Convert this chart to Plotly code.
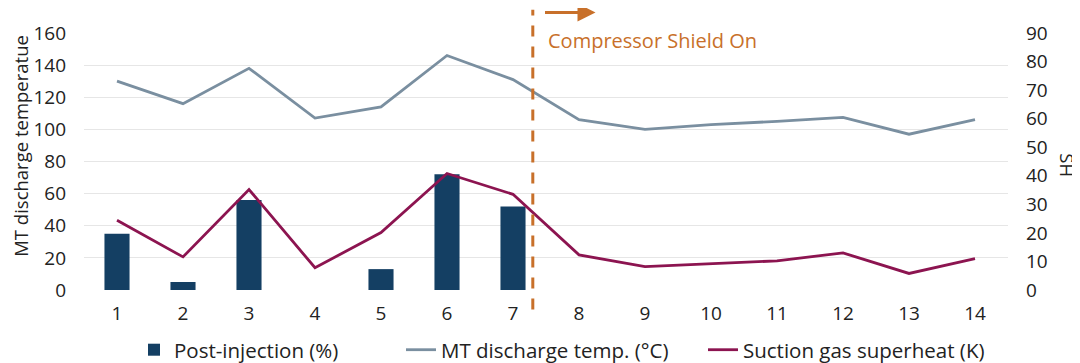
import plotly.graph_objects as go

# ---- data ----
periods = [1, 2, 3, 4, 5, 6, 7, 8, 9, 10, 11, 12, 13, 14]
post_injection = [35, 5, 56, 0, 13, 72, 52, 0, 0, 0, 0, 0, 0, 0]
mt_discharge = [130, 116, 138, 107, 114, 146, 131, 106, 100, 103, 105, 107.5, 97, 106]
suction_superheat = [24.4, 11.6, 35.2, 7.8, 20.1, 40.8, 33.5, 12.3, 8.2, 9.1, 10.2, 13.0, 5.8, 11.0]
left_ticks = [0, 20, 40, 60, 80, 100, 120, 140, 160]
right_ticks = [0, 10, 20, 30, 40, 50, 60, 70, 80, 90]
shield_on_position = 7.3

NAVY = "#143f63"
GREY = "#7a8fa0"
WINE = "#8c1450"
ORANGE = "#c8702a"
TEXT = "#222222"
FONT = "Open Sans"

fig = go.Figure()
fig.add_trace(go.Bar(
    x=periods, y=post_injection, name="Post-injection (%)",
    marker=dict(color=NAVY, line=dict(width=0)), width=0.38,
    legendwidth=222,
))
fig.add_trace(go.Scatter(
    x=periods, y=mt_discharge, name="MT discharge temp. (°C)", mode="lines",
    line=dict(color=GREY, width=2.8), legendwidth=257,
))
fig.add_trace(go.Scatter(
    x=periods, y=suction_superheat, name="Suction gas superheat (K)", mode="lines",
    line=dict(color=WINE, width=2.8), yaxis="y2",
))

fig.update_layout(
    width=1072, height=390,
    margin=dict(l=76, r=72, t=20, b=108),
    paper_bgcolor="white", plot_bgcolor="white",
    font=dict(family=FONT, size=19, color=TEXT),
    showlegend=True,
    legend=dict(orientation="h", x=0.0541, xanchor="left", y=-0.233, yanchor="middle",
                font=dict(size=20.5, color=TEXT), bgcolor="rgba(0,0,0,0)"),
    xaxis=dict(range=[0.5, 14.5], tickvals=periods, ticktext=[str(p) for p in periods],
               showgrid=False, zeroline=False, showline=False, ticks="",
               ticklabelstandoff=10, tickfont=dict(size=19, color=TEXT)),
    yaxis=dict(range=[0, 160], tickvals=left_ticks, showgrid=True, gridcolor="#e6e6e6",
               gridwidth=1, zeroline=False, showline=False, ticks="",
               ticklabelstandoff=17, tickfont=dict(size=19, color=TEXT)),
    yaxis2=dict(range=[0, 90], tickvals=right_ticks, overlaying="y", side="right",
                showgrid=False, zeroline=False, showline=False, ticks="",
                ticklabelstandoff=17, tickfont=dict(size=19, color=TEXT)),
)

# axis titles
fig.add_annotation(text="MT discharge temperatue", xref="paper", yref="paper",
                   x=-0.0682, y=0.561, xanchor="center", yanchor="middle",
                   textangle=-90, showarrow=False, font=dict(size=18.5, color=TEXT))
fig.add_annotation(text="SH", xref="paper", yref="paper",
                   x=1.065, y=0.485, xanchor="center", yanchor="middle",
                   textangle=90, showarrow=False, font=dict(size=18.5, color=TEXT))

# compressor shield marker
fig.add_shape(type="line", xref="x", yref="paper", x0=shield_on_position, x1=shield_on_position,
              y0=-0.076, y1=1.09, line=dict(color=ORANGE, width=3, dash="11px,10px"))
fig.add_annotation(text="", xref="x", yref="paper", x=8.25, y=1.08,
                   ax=-52, ay=0, showarrow=True, arrowhead=2, arrowsize=1.2,
                   arrowwidth=3, arrowcolor=ORANGE)
fig.add_annotation(text="Compressor Shield On", xref="x", yref="paper",
                   x=7.5, y=0.969, xanchor="left", yanchor="middle",
                   showarrow=False, font=dict(size=20, color=ORANGE))

fig.write_html("out.html")
